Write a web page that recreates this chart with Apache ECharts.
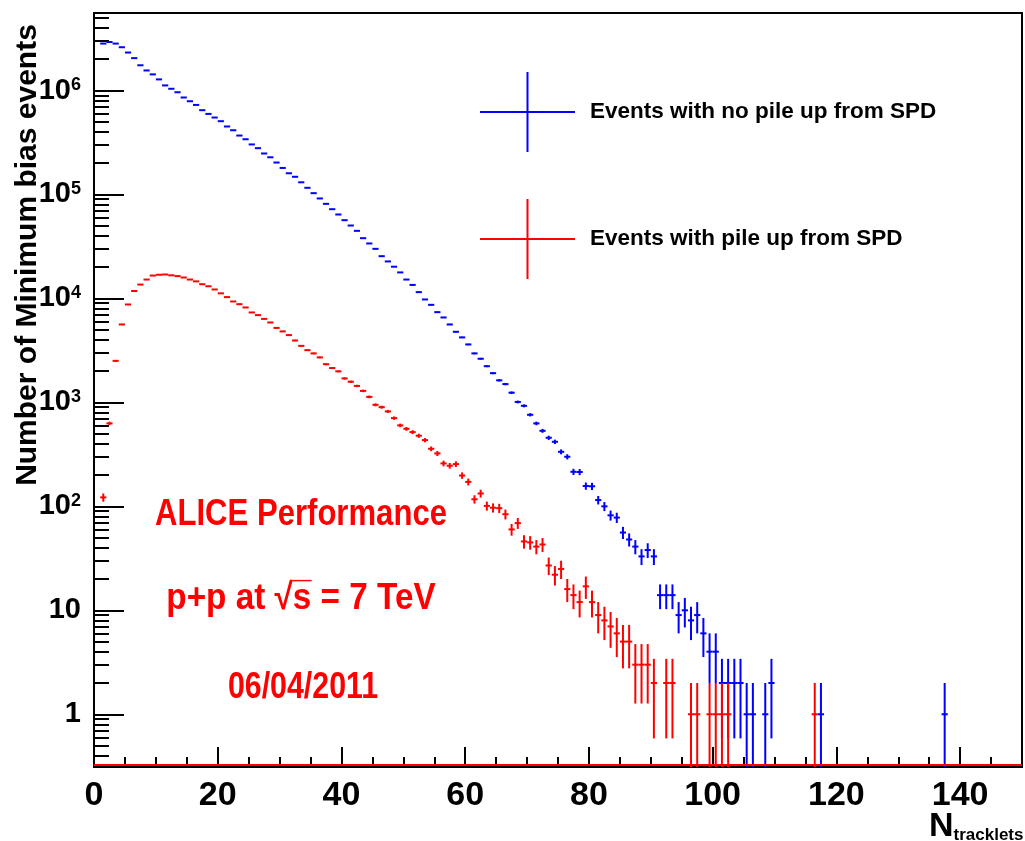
<!DOCTYPE html>
<html>
<head>
<meta charset="utf-8">
<title>Ntracklets</title>
<style>
	html, body { margin: 0; padding: 0; background: #fff; }
	#chart { width: 1025px; height: 841px; }
</style>
</head>
<body>
<div id="chart"></div>
<script src="https://cdn.jsdelivr.net/npm/echarts@6/dist/echarts.min.js"></script>
<script>
// one bin per tracklet count, bin i covers [i, i+1)
var blueName = 'Events with no pile up from SPD';
var redName = 'Events with pile up from SPD';

// bins 0..137
var blueCounts = [0, 2830000, 2930000, 2830000, 2610000, 2320000, 2050000, 1750000, 1560000, 1430000,
	1280000, 1120000, 1040000, 963000, 857000, 789000, 727000, 647000, 596000, 550000,
	507000, 451000, 415000, 369000, 340000, 303000, 279000, 248000, 228000, 203000,
	180000, 160000, 148000, 131000, 116000, 103000, 91600, 81300, 72200, 64200,
	56600, 50300, 44700, 38000, 33800, 30000, 25500, 22700, 20200, 17800,
	15200, 13500, 11500, 9780, 8680, 7380, 6560, 5620, 4780, 4220,
	3610, 2960, 2630, 2230, 1910, 1630, 1500, 1240, 1010, 927,
	760, 628, 533, 457, 418, 335, 300, 215, 214, 157,
	156, 115, 100, 82, 78, 56, 48, 41, 33, 38,
	33, 14, 14, 14, 9, 10, 8, 9, 6, 4,
	4, 2, 2, 2, 2, 1, 1, 0, 1, 2,
	0, 0, 0, 0, 0, 0, 0, 1, 0, 0,
	0, 0, 0, 0, 0, 0, 0, 0, 0, 0,
	0, 0, 0, 0, 0, 0, 0, 1];

// bins 0..116
var redCounts = [0, 122, 628, 2510, 5620, 8750, 11800, 13600, 15200, 16600,
	16900, 17000, 16700, 16400, 15900, 15200, 14600, 13700, 13100, 12200,
	11200, 10300, 9350, 8810, 8190, 7330, 6910, 6360, 5870, 5210,
	4820, 4440, 3940, 3500, 3180, 2960, 2710, 2330, 2140, 1990,
	1700, 1580, 1440, 1290, 1130, 948, 900, 819, 706, 601,
	557, 518, 478, 434, 358, 323, 259, 246, 255, 198,
	172, 117, 133, 101, 97, 96, 84, 60, 69, 46,
	45, 41, 43, 27, 22, 25, 16, 14, 12, 17,
	12, 9, 8, 7, 6, 5, 5, 3, 3, 3,
	2, 0, 2, 2, 0, 0, 1, 1, 0, 1,
	1, 1, 1, 0, 0, 0, 0, 0, 0, 0,
	0, 0, 0, 0, 0, 0, 1];

var nBins = 150;
var yMin = 0.311, yMax = 5.57e6;
var redBaseline = 0.325;
var yMajor = [1, 10, 100, 1000, 10000, 100000, 1000000];
var yMinor = [0.4, 0.5, 0.6, 0.7, 0.8, 0.9,
	2, 3, 4, 5, 6, 7, 8, 9,
	20, 30, 40, 50, 60, 70, 80, 90,
	200, 300, 400, 500, 600, 700, 800, 900,
	2000, 3000, 4000, 5000, 6000, 7000, 8000, 9000,
	20000, 30000, 40000, 50000, 60000, 70000, 80000, 90000,
	200000, 300000, 400000, 500000, 600000, 700000, 800000, 900000,
	2000000, 3000000, 4000000, 5000000];
var xMajor = [0, 20, 40, 60, 80, 100, 120, 140];
var xMinor = [5, 10, 15, 25, 30, 35, 45, 50, 55, 65, 70, 75, 85, 90, 95,
	105, 110, 115, 125, 130, 135, 145];

var font = '"Liberation Sans", Arial, Helvetica, sans-serif';
var crossIcon = 'path://M0,39L95,39L95,41L0,41Z M46.5,0L48.5,0L48.5,80L46.5,80Z';

function binData(counts) {
	var out = [];
	for (var i = 0; i < nBins; i++) {
		out.push([i, i < counts.length ? counts[i] : 0]);
	}
	return out;
}

// ROOT style error bars: bin-wide horizontal bar, sqrt(N) vertical bar
function renderBin(params, api) {
	var lo = api.value(0), n = api.value(1);
	var cs = params.coordSys;
	var bottom = cs.y + cs.height;
	var color = api.visual('color');
	var st = { stroke: color, lineWidth: 2 };
	var xl = api.coord([lo, 1])[0], xr = api.coord([lo + 1, 1])[0], xc = (xl + xr) / 2;
	if (!(n > 0)) {
		return { type: 'line', shape: { x1: xl, y1: bottom - 2, x2: xr, y2: bottom - 2 }, style: st };
	}
	var err = Math.sqrt(n);
	var yc = api.coord([lo, n])[1];
	var yTop = api.coord([lo, n + err])[1];
	var yBot = (n - err) > yMin ? api.coord([lo, n - err])[1] : bottom;
	return {
		type: 'group',
		children: [
			{ type: 'line', shape: { x1: xl, y1: yc, x2: xr, y2: yc }, style: st },
			{ type: 'line', shape: { x1: xc, y1: yTop, x2: xc, y2: yBot }, style: st }
		]
	};
}

function yLabel(v) {
	var e = Math.round(Math.log10(v));
	if (e === 0) return '{b|1}';
	if (e === 1) return '{b|10}';
	return '{b|10}{s|' + e + '}';
}

var myChart = echarts.init(document.getElementById('chart'));
var option = {
	animation: false,
	backgroundColor: '#fff',
	grid: {
		left: 94, right: 3, top: 13, bottom: 74,
		outerBoundsMode: 'none', containLabel: false,
		show: true, borderColor: '#000', borderWidth: 2, backgroundColor: 'transparent'
	},
	legend: {
		left: 475, top: 67, orient: 'vertical',
		itemWidth: 95, itemHeight: 80, itemGap: 47,
		selectedMode: false,
		data: [{ name: blueName, icon: crossIcon }, { name: redName, icon: crossIcon }],
		itemStyle: { borderWidth: 0 },
		textStyle: { fontFamily: font, fontWeight: 'bold', fontSize: 22.5, color: '#000', padding: [0, 0, 0, 10] }
	},
	xAxis: [{
		type: 'value', min: 0, max: 150, position: 'bottom',
		axisLine: { show: true, lineStyle: { color: '#000', width: 2 } },
		axisTick: { show: true, inside: true, length: 20, customValues: xMajor, lineStyle: { color: '#000', width: 2 } },
		axisLabel: { customValues: xMajor, margin: 12, fontFamily: font, fontWeight: 'bold', fontSize: 34, color: '#000' },
		splitLine: { show: false }
	}, {
		type: 'value', min: 0, max: 150, position: 'bottom',
		axisLine: { show: false }, axisLabel: { show: false }, splitLine: { show: false },
		axisTick: { show: true, inside: true, length: 10, customValues: xMinor, lineStyle: { color: '#000', width: 2 } }
	}],
	yAxis: [{
		type: 'log', min: yMin, max: yMax, position: 'left',
		axisLine: { show: true, lineStyle: { color: '#000', width: 2 } },
		axisTick: { show: true, inside: true, length: 30, customValues: yMajor, lineStyle: { color: '#000', width: 2 } },
		axisLabel: {
			customValues: yMajor, margin: 13, formatter: yLabel,
			rich: {
				b: { fontFamily: font, fontWeight: 'bold', fontSize: 29, color: '#000' },
				s: { fontFamily: font, fontWeight: 'bold', fontSize: 18, color: '#000', verticalAlign: 'top' }
			}
		},
		splitLine: { show: false }
	}, {
		type: 'log', min: yMin, max: yMax, position: 'left',
		axisLine: { show: false }, axisLabel: { show: false }, splitLine: { show: false },
		axisTick: { show: true, inside: true, length: 15, customValues: yMinor, lineStyle: { color: '#000', width: 2 } }
	}],
	series: [{
		name: blueName, type: 'custom', renderItem: renderBin, clip: true,
		xAxisIndex: 0, yAxisIndex: 0, encode: { x: 0, y: 1 },
		itemStyle: { color: '#0000ff' },
		data: binData(blueCounts)
	}, {
		name: redName, type: 'custom', renderItem: renderBin, clip: true,
		xAxisIndex: 0, yAxisIndex: 0, encode: { x: 0, y: 1 },
		itemStyle: { color: '#ff0000' },
		data: binData(redCounts),
		// red histogram baseline along the bottom of the frame
		markLine: {
			silent: true, symbol: 'none', label: { show: false },
			lineStyle: { color: '#ff0000', width: 2, type: 'solid' },
			data: [{ yAxis: redBaseline }]
		}
	}],
	graphic: [
		// axis titles
		{ type: 'text', x: 28, y: 255, rotation: Math.PI / 2,
			style: { text: 'Number of Minimum bias events', fill: '#000', font: 'bold 30px ' + font, align: 'center', verticalAlign: 'middle' } },
		{ type: 'text', x: 929, y: 810,
			style: {
				text: '{n|N}{t|tracklets}', align: 'left', verticalAlign: 'top',
				rich: {
					n: { fontFamily: font, fontWeight: 'bold', fontSize: 34, fill: '#000' },
					t: { fontFamily: font, fontWeight: 'bold', fontSize: 17, fill: '#000', verticalAlign: 'bottom' }
				}
			} },
		// annotation
		{ type: 'text', x: 301, y: 515, scaleX: 0.84,
			style: { text: 'ALICE Performance', fill: '#ff0000', font: 'bold 37px ' + font, align: 'center', verticalAlign: 'middle' } },
		{ type: 'text', x: 301, y: 599, scaleX: 0.9,
			style: { text: 'p+p at \u221As\u0305 = 7 TeV', fill: '#ff0000', font: 'bold 37px ' + font, align: 'center', verticalAlign: 'middle' } },
		{ type: 'text', x: 303, y: 688, scaleX: 0.82,
			style: { text: '06/04/2011', fill: '#ff0000', font: 'bold 37px ' + font, align: 'center', verticalAlign: 'middle' } }
	]
};
myChart.setOption(option);
</script>
</body>
</html>
